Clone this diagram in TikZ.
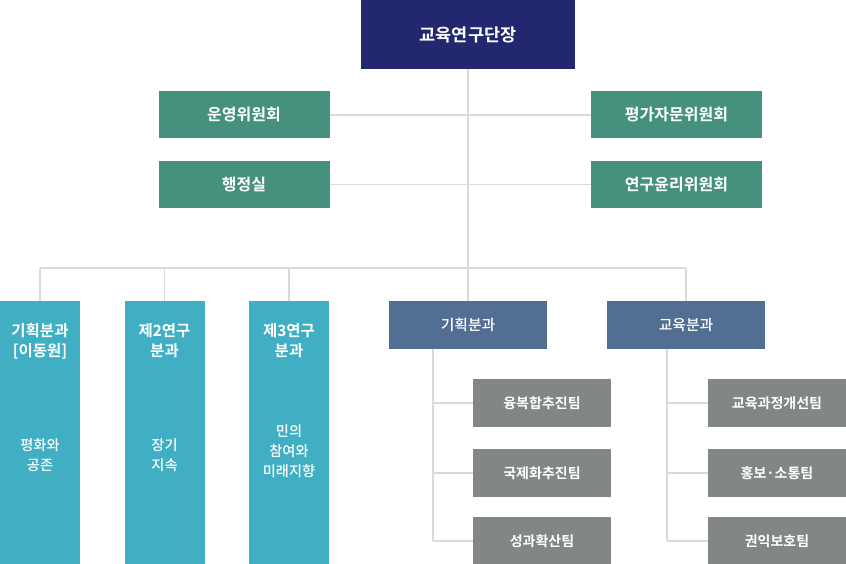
\documentclass[tikz,border=0pt]{standalone}
\usepackage{fontspec}
\setmainfont{Noto Sans CJK KR}[UprightFont=* Medium,BoldFont=* Bold]
\definecolor{navy}{RGB}{34,39,112}
\definecolor{grn}{RGB}{70,145,126}
\definecolor{tealc}{RGB}{65,175,195}
\definecolor{slate}{RGB}{82,110,146}
\definecolor{greyc}{RGB}{131,134,134}
\definecolor{linec}{RGB}{218,218,218}
\begin{document}
\begin{tikzpicture}[x=1pt,y=-1pt,
  box/.style={rectangle,inner sep=0pt,text=white,align=center},
  topbox/.style={box,fill=navy,minimum width=214pt,minimum height=69pt,font=\fontsize{17.5}{20}\selectfont\bfseries},
  grnbox/.style={box,fill=grn,minimum width=171pt,minimum height=47pt,font=\fontsize{16}{19}\selectfont\bfseries},
  colbox/.style={box,fill=tealc,minimum width=80pt,minimum height=264pt},
  coltitle/.style={text=white,align=center,inner sep=0pt,font=\fontsize{15.5}{20}\selectfont\bfseries},
  colbody/.style={text=white,align=center,inner sep=0pt,font=\fontsize{14.2}{20}\selectfont},
  divbox/.style={box,fill=slate,minimum width=158pt,minimum height=48pt,font=\fontsize{14.8}{17}\selectfont},
  teambox/.style={box,fill=greyc,minimum width=138pt,minimum height=48pt,font=\fontsize{14}{17}\selectfont\bfseries},
  conn/.style={draw=linec,line width=1.4pt}]
\useasboundingbox (0,0) rectangle (846,564);
\coordinate (busL) at (40,268);
\coordinate (busR) at (686,268);
\coordinate (subL) at (433,541);
\coordinate (subR) at (667,541);
\node[topbox] (top) at (468,34.5) {교육연구단장};
\node[grnbox] (g1) at (244,115) {운영위원회};
\node[grnbox] (g2) at (244,184.5) {행정실};
\node[grnbox] (r1) at (676.5,115) {평가자문위원회};
\node[grnbox] (r2) at (676.5,184.5) {연구윤리위원회};
\node[colbox,anchor=north] (c1) at (40,301) {};
\node[colbox,anchor=north] (c2) at (164.5,301) {};
\node[colbox,anchor=north] (c3) at (289,301) {};
\node[coltitle] (t1) at (40,341) {기획분과\\{[}이동원{]}};
\node[coltitle] (t2) at (164.5,341) {제2연구\\분과};
\node[coltitle] (t3) at (289,341) {제3연구\\분과};
\node[colbody] (b1) at (40,455) {평화와\\공존};
\node[colbody] (b2) at (164.5,455) {장기\\지속};
\node[colbody] (b3) at (289,451) {민의\\참여와\\미래지향};
\node[divbox] (d1) at (468,325) {기획분과};
\node[divbox] (d2) at (686,325) {교육분과};
\node[teambox] (l1) at (542,403) {융복합추진팀};
\node[teambox] (l2) at (542,473) {국제화추진팀};
\node[teambox] (l3) at (542,541) {성과확산팀};
\node[teambox] (q1) at (777,403) {교육과정개선팀};
\node[teambox] (q2) at (777,473) {홍보·소통팀};
\node[teambox] (q3) at (777,541) {권익보호팀};
\draw[conn] (top.south) -- (d1.north);
\draw[conn] (g1.east) -- (r1.west);
\draw[conn] (g2.east) -- (r2.west);
\draw[conn] (busL) -- (busR);
\draw[conn] (busL) -- (c1.north);
\draw[conn] (c2.north |- busL) -- (c2.north);
\draw[conn] (c3.north |- busL) -- (c3.north);
\draw[conn] (busR) -- (d2.north);
\draw[conn] (subL |- d1.south) -- (subL);
\draw[conn] (subR |- d2.south) -- (subR);
\draw[conn] (subL |- l1.west) -- (l1.west);
\draw[conn] (subL |- l2.west) -- (l2.west);
\draw[conn] (subL) -- (l3.west);
\draw[conn] (subR |- q1.west) -- (q1.west);
\draw[conn] (subR |- q2.west) -- (q2.west);
\draw[conn] (subR) -- (q3.west);
\end{tikzpicture}
\end{document}
